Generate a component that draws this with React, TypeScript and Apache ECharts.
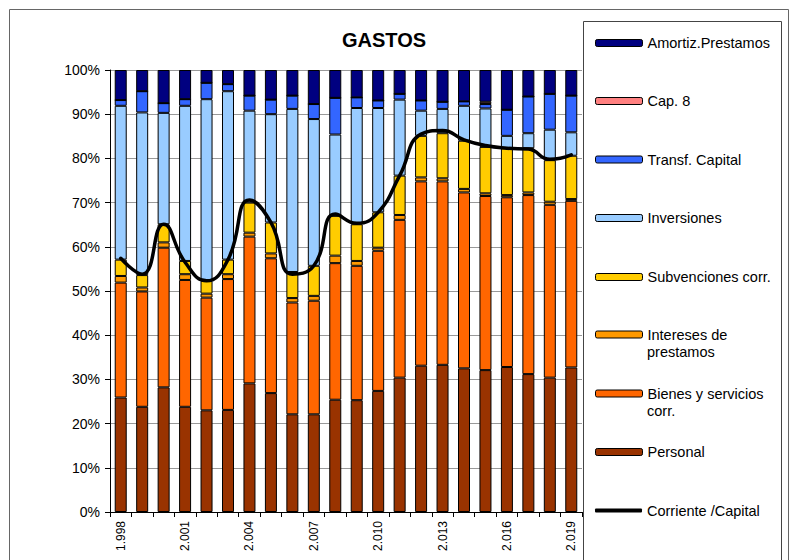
import React, { useEffect, useRef } from "react";
import * as echarts from "echarts";

const years = [
  "1.998", "1.999", "2.000", "2.001", "2.002", "2.003", "2.004", "2.005",
  "2.006", "2.007", "2.008", "2.009", "2.010", "2.011", "2.012", "2.013",
  "2.014", "2.015", "2.016", "2.017", "2.018", "2.019",
];

const personal = [25.9, 23.8, 28.2, 23.8, 23.0, 23.1, 29.1, 26.9, 22.1, 22.1, 25.4, 25.3, 27.4, 30.4, 33.1, 33.3, 32.5, 32.1, 32.8, 31.2, 30.4, 32.7];
const bienes = [26.0, 26.1, 31.6, 28.7, 25.5, 29.6, 33.2, 30.5, 25.3, 25.7, 30.9, 30.4, 31.7, 35.7, 41.7, 41.5, 39.8, 39.4, 38.4, 40.5, 39.1, 37.7];
const intereses = [1.5, 0.9, 1.2, 1.3, 0.9, 1.1, 0.9, 1.1, 1.0, 1.1, 1.7, 1.1, 0.7, 1.1, 0.9, 0.7, 0.8, 0.6, 0.5, 0.6, 0.7, 0.4];
const subvenciones = [3.7, 2.8, 4.1, 3.0, 2.9, 3.3, 6.8, 7.0, 5.9, 6.8, 9.0, 8.3, 8.0, 8.9, 9.4, 10.2, 10.9, 10.5, 10.6, 10.0, 9.4, 9.8];
const inversiones = [34.8, 36.8, 25.2, 35.1, 41.1, 38.1, 20.8, 24.5, 36.9, 33.2, 18.4, 26.3, 23.6, 17.2, 5.7, 5.5, 7.9, 8.7, 2.8, 3.4, 6.9, 5.3];
const transfCapital = [1.3, 4.8, 2.2, 1.5, 3.7, 1.6, 3.4, 3.3, 3.0, 3.4, 8.3, 2.4, 1.7, 1.3, 2.3, 1.6, 1.0, 1.0, 5.9, 8.3, 8.1, 8.3];
const cap8 = [0, 0, 0, 0, 0, 0, 0, 0, 0, 0, 0, 0, 0, 0, 0, 0, 0, 0.5, 0, 0, 0, 0];
const amortiz = [6.8, 4.8, 7.5, 6.6, 2.9, 3.2, 5.8, 6.7, 5.8, 7.7, 6.3, 6.2, 6.9, 5.4, 6.9, 7.2, 7.1, 7.2, 9.0, 6.0, 5.4, 5.8];
const corrienteCapital = [57.4, 53.8, 65.1, 56.5, 52.3, 57.1, 70.6, 65.5, 53.8, 55.7, 67.4, 65.3, 67.8, 76.1, 85.5, 86.3, 84.2, 82.9, 82.3, 82.1, 79.8, 80.8];

const yTicks = [0, 10, 20, 30, 40, 50, 60, 70, 80, 90, 100];

const barSeriesDefs = [
  { name: "Personal", data: personal, color: "#993300" },
  { name: "Bienes y servicios corr.", data: bienes, color: "#FF6600" },
  { name: "Intereses de prestamos", data: intereses, color: "#FF9900" },
  { name: "Subvenciones corr.", data: subvenciones, color: "#FFCC00" },
  { name: "Inversiones", data: inversiones, color: "#99CCFF" },
  { name: "Transf. Capital", data: transfCapital, color: "#3366FF" },
  { name: "Cap. 8", data: cap8, color: "#FF8080" },
  { name: "Amortiz.Prestamos", data: amortiz, color: "#000080" },
];

const LINE_NAME = "Corriente /Capital";

// legend names that wrap onto a second line: [first line, second line]
const legendWrapped: Record<string, [string, string]> = {
  "Intereses de prestamos": ["Intereses de", "prestamos"],
  "Bienes y servicios corr.": ["Bienes y servicios", "corr."],
};

const legendLayout = [
  { name: "Amortiz.Prestamos", cy: 43 },
  { name: "Cap. 8", cy: 101 },
  { name: "Transf. Capital", cy: 159.5 },
  { name: "Inversiones", cy: 218 },
  { name: "Subvenciones corr.", cy: 277 },
  { name: "Intereses de prestamos", cy: 334.5 },
  { name: "Bienes y servicios corr.", cy: 393.5 },
  { name: "Personal", cy: 452 },
  { name: LINE_NAME, cy: 510.5 },
];

const FONT = "'Liberation Sans', Arial, Helvetica, sans-serif";
const LEGEND_FONT_SIZE = 14.5;

export default function App() {
  const ref = useRef<HTMLDivElement>(null);

  useEffect(() => {
    if (!ref.current) return;
    const chart = echarts.init(ref.current, undefined, { renderer: "svg" });

    const legends = legendLayout.map((l) => {
      const isLine = l.name === LINE_NAME;
      return {
        data: isLine ? [{ name: l.name, icon: "roundRect" }] : [l.name],
        orient: "vertical",
        left: 595,
        top: l.cy - 8.5,
        padding: 0,
        itemWidth: 47,
        itemHeight: isLine ? 4 : 7,
        itemGap: 0,
        selectedMode: false,
        formatter: (name: string) => (legendWrapped[name] ? legendWrapped[name][0] : name),
        itemStyle: isLine
          ? { color: "#000", borderWidth: 0 }
          : { borderColor: "#000", borderWidth: 1 },
        textStyle: {
          fontFamily: FONT,
          fontSize: LEGEND_FONT_SIZE,
          color: "#000",
          lineHeight: 17,
        },
      };
    });

    const secondLines = legendLayout
      .filter((l) => legendWrapped[l.name])
      .map((l) => ({
        type: "text",
        x: 647,
        y: l.cy + 17,
        silent: true,
        z: 10,
        style: {
          text: legendWrapped[l.name][1],
          fontFamily: FONT,
          fontSize: LEGEND_FONT_SIZE,
          fill: "#000",
          textVerticalAlign: "middle",
          verticalAlign: "middle",
        },
      }));

    const option: any = {
      animation: false,
      backgroundColor: "#fff",
      title: {
        text: "GASTOS",
        left: 379,
        top: 25,
        textAlign: "center",
        textStyle: { fontFamily: FONT, fontSize: 20, fontWeight: "bold", color: "#000" },
      },
      grid: { left: 110, right: 212, top: 70, bottom: 48, containLabel: false },
      legend: legends,
      xAxis: {
        type: "category",
        data: years,
        boundaryGap: true,
        axisLine: { lineStyle: { color: "#000", width: 1 } },
        axisTick: { show: true, interval: 0, length: 5, lineStyle: { color: "#000" } },
        axisLabel: {
          interval: 2,
          rotate: 90,
          margin: 9,
          fontFamily: FONT,
          fontSize: 12,
          color: "#000",
        },
      },
      yAxis: {
        type: "value",
        min: yTicks[0],
        max: yTicks[yTicks.length - 1],
        interval: 10,
        axisLine: { show: true, lineStyle: { color: "#000", width: 1 } },
        axisTick: { show: true, length: 5, lineStyle: { color: "#000" } },
        axisLabel: {
          formatter: "{value}%",
          margin: 10,
          fontFamily: FONT,
          fontSize: 14,
          color: "#000",
        },
        splitLine: { show: true, lineStyle: { color: "#999", width: 1 } },
      },
      series: [
        ...barSeriesDefs.map((s) => ({
          name: s.name,
          type: "bar",
          stack: "total",
          data: s.data,
          barWidth: 12,
          itemStyle: { color: s.color, borderColor: "#000", borderWidth: 1 },
        })),
        {
          name: LINE_NAME,
          type: "line",
          data: corrienteCapital,
          smooth: 0.5,
          symbol: "none",
          z: 5,
          itemStyle: { color: "#000" },
          lineStyle: { color: "#000", width: 3.5, cap: "round", join: "round" },
        },
      ],
      graphic: [
        {
          type: "rect",
          shape: { x: 9.5, y: 9.5, width: 779, height: 580 },
          style: { fill: "none", stroke: "#666", lineWidth: 1 },
          silent: true,
          z: -10,
        },
        {
          type: "rect",
          shape: { x: 583.5, y: 21.5, width: 198, height: 580 },
          style: { fill: "#fff", stroke: "#444", lineWidth: 1 },
          silent: true,
          z: -5,
        },
        ...secondLines,
      ],
    };

    chart.setOption(option);
    return () => chart.dispose();
  }, []);

  return (
    <div
      ref={ref}
      style={{ position: "fixed", left: 0, top: 0, width: 794, height: 560, background: "#fff" }}
    />
  );
}
